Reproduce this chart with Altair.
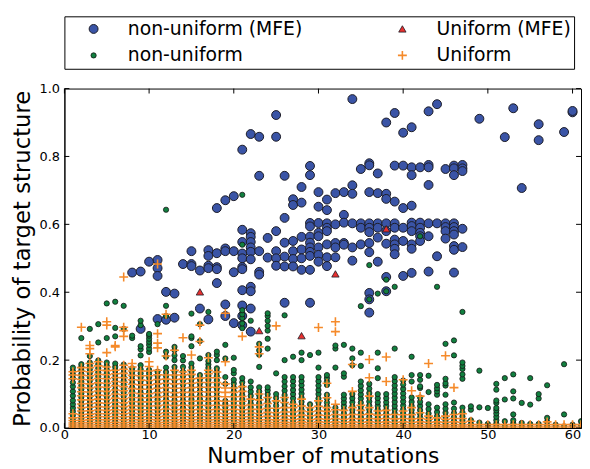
import altair as alt
import pandas as pd

# ---------------- data ----------------
# legend order (matplotlib column-major): col 1 = non-uniform pair, col 2 = Uniform pair
SERIES = ["non-uniform (MFE)", "non-uniform", "Uniform (MFE)", "Uniform"]

# non-uniform (MFE): (number of mutations, [probabilities])
NU_MFE = [
    (8, [0.458]), (9, [0.461, 0.292]), (10, [0.49]),
    (11, [0.495, 0.471, 0.448, 0.321]), (12, [0.401, 0.319]), (13, [0.396, 0.325]),
    (14, [0.483]), (15, [0.521, 0.483, 0.477]), (16, [0.464, 0.352]),
    (17, [0.524, 0.507, 0.478, 0.471, 0.32]), (18, [0.648, 0.515, 0.474, 0.468, 0.427]),
    (19, [0.671, 0.529, 0.521, 0.364, 0.33]), (20, [0.683, 0.521, 0.459, 0.309]),
    (21, [0.82, 0.584, 0.548, 0.514, 0.50, 0.474, 0.468, 0.406, 0.361, 0.33, 0.303]),
    (22, [0.866, 0.574, 0.563, 0.548, 0.532, 0.519, 0.497, 0.416, 0.403, 0.352, 0.284]),
    (23, [0.858, 0.743, 0.521, 0.46, 0.452]), (24, [0.56, 0.502]),
    (25, [0.922, 0.858, 0.58, 0.521, 0.50, 0.478]),
    (26, [0.743, 0.619, 0.546, 0.505, 0.476, 0.369]),
    (27, [0.674, 0.657, 0.551, 0.521, 0.498, 0.476]),
    (28, [0.71, 0.664, 0.563, 0.526, 0.50, 0.466]),
    (29, [0.772, 0.745, 0.604, 0.594, 0.564, 0.546, 0.532, 0.519, 0.507, 0.466, 0.369]),
    (30, [0.695, 0.652, 0.604, 0.575, 0.565, 0.532, 0.51, 0.49]),
    (31, [0.673, 0.642, 0.603, 0.59, 0.58, 0.541, 0.503, 0.477]),
    (32, [0.692, 0.60, 0.545, 0.532, 0.503]), (33, [0.695, 0.628, 0.605, 0.545, 0.54]),
    (34, [0.969, 0.715, 0.69, 0.603, 0.532, 0.493]), (35, [0.763, 0.603, 0.59, 0.541]),
    (36, [0.78, 0.774, 0.695, 0.603, 0.59, 0.577, 0.545, 0.518, 0.398, 0.379, 0.34]),
    (37, [0.75, 0.692, 0.603, 0.59, 0.561, 0.49]),
    (38, [0.90, 0.69, 0.675, 0.603, 0.58, 0.543, 0.445, 0.403]),
    (39, [0.928, 0.773, 0.667, 0.603, 0.59, 0.555, 0.541, 0.528, 0.512]),
    (40, [0.87, 0.773, 0.648, 0.59, 0.551, 0.448]),
    (41, [0.886, 0.768, 0.745, 0.655, 0.605, 0.595, 0.58, 0.541, 0.528, 0.457]),
    (42, [0.768, 0.605, 0.59, 0.575, 0.565, 0.551]),
    (43, [0.933, 0.775, 0.768, 0.716, 0.603, 0.565, 0.461]), (44, [0.954, 0.603, 0.506]),
    (45, [0.763, 0.603, 0.592, 0.58, 0.558]),
    (46, [0.773, 0.765, 0.745, 0.603, 0.592, 0.58, 0.57, 0.536, 0.525, 0.458]),
    (47, [0.775, 0.765, 0.757, 0.587, 0.533]), (49, [0.911]), (52, [0.857]), (53, [0.942]),
    (54, [0.707]), (56, [0.895, 0.848]), (59, [0.872]), (60, [0.93, 0.934]),
]

# Uniform (MFE)
U_MFE_X = [16, 23, 28, 32, 38]
U_MFE_Y = [0.401, 0.287, 0.272, 0.454, 0.587]

# non-uniform
NU = [
    (1, [0.004, 0.011, 0.019, 0.028, 0.038, 0.049, 0.059, 0.07, 0.081, 0.095, 0.108, 0.122, 0.134, 0.147, 0.158, 0.168, 0.178]),
    (2, [0.005, 0.012, 0.02, 0.029, 0.039, 0.048, 0.058, 0.069, 0.08, 0.091, 0.102, 0.114, 0.125, 0.136, 0.148, 0.159, 0.17, 0.18, 0.188, 0.265]),
    (3, [0.004, 0.013, 0.021, 0.03, 0.04, 0.05, 0.061, 0.071, 0.082, 0.093, 0.104, 0.116, 0.127, 0.139, 0.15, 0.162, 0.173, 0.184, 0.193, 0.212, 0.292]),
    (4, [0.006, 0.014, 0.022, 0.031, 0.041, 0.051, 0.062, 0.073, 0.084, 0.095, 0.106, 0.117, 0.129, 0.14, 0.152, 0.164, 0.176, 0.188, 0.199, 0.252, 0.306]),
    (5, [0.005, 0.012, 0.021, 0.03, 0.04, 0.05, 0.06, 0.071, 0.082, 0.093, 0.104, 0.116, 0.127, 0.138, 0.15, 0.161, 0.172, 0.183, 0.193, 0.265, 0.367]),
    (6, [0.004, 0.012, 0.02, 0.029, 0.039, 0.049, 0.059, 0.07, 0.081, 0.092, 0.103, 0.114, 0.126, 0.137, 0.148, 0.159, 0.17, 0.18, 0.19, 0.27, 0.295, 0.372]),
    (7, [0.005, 0.013, 0.022, 0.031, 0.041, 0.051, 0.061, 0.072, 0.083, 0.094, 0.105, 0.116, 0.128, 0.139, 0.15, 0.162, 0.174, 0.187, 0.292, 0.36]),
    (8, [0.006, 0.014, 0.023, 0.032, 0.042, 0.052, 0.063, 0.074, 0.085, 0.096, 0.108, 0.119, 0.131, 0.142, 0.154, 0.165, 0.176, 0.265, 0.272]),
    (9, [0.005, 0.013, 0.021, 0.03, 0.04, 0.05, 0.06, 0.071, 0.082, 0.093, 0.104, 0.115, 0.127, 0.138, 0.15, 0.161, 0.173, 0.185, 0.214, 0.232, 0.241, 0.303, 0.316]),
    (10, [0.004, 0.012, 0.02, 0.029, 0.039, 0.049, 0.06, 0.071, 0.082, 0.093, 0.105, 0.116, 0.127, 0.138, 0.15, 0.161, 0.171, 0.224, 0.234, 0.245, 0.254, 0.263, 0.272, 0.277]),
    (11, [0.005, 0.013, 0.022, 0.031, 0.041, 0.051, 0.062, 0.073, 0.084, 0.095, 0.106, 0.118, 0.13, 0.142, 0.154, 0.166, 0.306]),
    (12, [0.006, 0.014, 0.022, 0.031, 0.04, 0.05, 0.061, 0.072, 0.083, 0.094, 0.106, 0.117, 0.129, 0.141, 0.153, 0.165, 0.178, 0.21, 0.225, 0.33, 0.36, 0.643]),
    (13, [0.005, 0.012, 0.021, 0.03, 0.04, 0.05, 0.06, 0.071, 0.082, 0.094, 0.105, 0.117, 0.129, 0.141, 0.154, 0.167, 0.18, 0.2, 0.214, 0.229, 0.239]),
    (14, [0.004, 0.012, 0.02, 0.029, 0.039, 0.049, 0.059, 0.07, 0.081, 0.092, 0.104, 0.116, 0.128, 0.14, 0.153, 0.166, 0.18, 0.199, 0.212]),
    (15, [0.005, 0.013, 0.022, 0.031, 0.041, 0.051, 0.062, 0.073, 0.084, 0.095, 0.107, 0.119, 0.131, 0.143, 0.155, 0.167, 0.179, 0.19, 0.241, 0.265, 0.27, 0.337]),
    (16, [0.006, 0.014, 0.023, 0.032, 0.042, 0.052, 0.063, 0.074, 0.085, 0.096, 0.108, 0.12, 0.132, 0.144, 0.156, 0.205, 0.256, 0.306]),
    (17, [0.005, 0.012, 0.021, 0.03, 0.04, 0.05, 0.061, 0.072, 0.083, 0.094, 0.106, 0.118, 0.13, 0.142, 0.154, 0.166, 0.177, 0.187, 0.197, 0.215, 0.342]),
    (18, [0.004, 0.012, 0.021, 0.03, 0.04, 0.05, 0.06, 0.071, 0.082, 0.093, 0.105, 0.117, 0.129, 0.141, 0.153, 0.165, 0.176, 0.2, 0.215, 0.225]),
    (19, [0.005, 0.013, 0.022, 0.031, 0.041, 0.051, 0.061, 0.071, 0.08, 0.13, 0.15, 0.205, 0.245]),
    (20, [0.006, 0.014, 0.023, 0.032, 0.042, 0.052, 0.063, 0.074, 0.085, 0.096, 0.108, 0.119, 0.131, 0.142, 0.161, 0.171, 0.207]),
    (21, [0.005, 0.013, 0.022, 0.031, 0.041, 0.051, 0.062, 0.073, 0.085, 0.097, 0.109, 0.122, 0.135, 0.147, 0.294, 0.308, 0.324, 0.335, 0.347, 0.54, 0.687]),
    (22, [0.004, 0.012, 0.021, 0.03, 0.04, 0.05, 0.061, 0.072, 0.083, 0.095, 0.107, 0.12, 0.137, 0.316]),
    (23, [0.005, 0.013, 0.022, 0.031, 0.041, 0.051, 0.062, 0.073, 0.085, 0.097, 0.108, 0.12, 0.18, 0.216, 0.229, 0.248]),
    (24, [0.006, 0.014, 0.023, 0.032, 0.042, 0.053, 0.064, 0.076, 0.088, 0.1, 0.111, 0.12, 0.234, 0.263, 0.287, 0.301, 0.316, 0.33, 0.338]),
    (25, [0.005, 0.013, 0.022, 0.032, 0.043, 0.054, 0.066, 0.078, 0.089, 0.1, 0.161]),
    (26, [0.004, 0.012, 0.021, 0.03, 0.04, 0.051, 0.062, 0.073, 0.085, 0.097, 0.11, 0.123, 0.137, 0.15, 0.2, 0.332]),
    (27, [0.005, 0.013, 0.022, 0.032, 0.042, 0.053, 0.064, 0.076, 0.088, 0.1, 0.112, 0.125, 0.138, 0.15, 0.21]),
    (28, [0.006, 0.014, 0.023, 0.033, 0.043, 0.054, 0.065, 0.077, 0.089, 0.101, 0.113, 0.126, 0.138, 0.15, 0.2, 0.222]),
    (29, [0.005, 0.013, 0.022, 0.032, 0.043, 0.055, 0.07, 0.215]),
    (30, [0.004, 0.012, 0.021, 0.031, 0.041, 0.052, 0.063, 0.075, 0.087, 0.1, 0.112, 0.125, 0.138, 0.15, 0.178, 0.222]),
    (31, [0.005, 0.013, 0.022, 0.032, 0.042, 0.053, 0.064, 0.075, 0.087, 0.098, 0.127, 0.137, 0.147, 0.156]),
    (32, [0.006, 0.014, 0.024, 0.035, 0.047, 0.06, 0.178, 0.234, 0.243]),
    (33, [0.005, 0.013, 0.022, 0.032, 0.043, 0.054, 0.065, 0.076, 0.087, 0.098, 0.151, 0.161, 0.245]),
    (34, [0.004, 0.012, 0.021, 0.031, 0.042, 0.053, 0.064, 0.076, 0.088, 0.1, 0.185, 0.205, 0.234]),
    (35, [0.005, 0.013, 0.022, 0.032, 0.042, 0.053, 0.064, 0.075, 0.087, 0.099, 0.111, 0.124, 0.137, 0.183, 0.222, 0.359]),
    (36, [0.006, 0.014, 0.023, 0.033, 0.044, 0.055, 0.066, 0.078, 0.09, 0.103, 0.116, 0.13, 0.379, 0.48]),
    (37, [0.005, 0.013, 0.022, 0.032, 0.043, 0.054, 0.065, 0.076, 0.088, 0.1, 0.147, 0.176, 0.222, 0.396]),
    (38, [0.004, 0.012, 0.021, 0.031, 0.042, 0.053, 0.065, 0.076, 0.088, 0.1, 0.403, 0.437]),
    (39, [0.005, 0.013, 0.022, 0.032, 0.043, 0.054, 0.065, 0.077, 0.089, 0.101, 0.113, 0.125, 0.138, 0.15, 0.234, 0.416]),
    (40, [0.006, 0.014, 0.023, 0.033, 0.044, 0.055, 0.066, 0.078, 0.09, 0.102, 0.115, 0.128, 0.14]),
    (41, [0.005, 0.013, 0.022, 0.032, 0.042, 0.053, 0.065, 0.077, 0.09, 0.137, 0.156, 0.21]),
    (42, [0.004, 0.012, 0.021, 0.031, 0.042, 0.053, 0.065, 0.077, 0.09, 0.118, 0.123, 0.142, 0.156, 0.565]),
    (43, [0.005, 0.013, 0.022, 0.032, 0.043, 0.056, 0.07, 0.106, 0.154]),
    (44, [0.006, 0.014, 0.024, 0.035, 0.047, 0.06, 0.098, 0.108, 0.117, 0.127, 0.416]),
    (45, [0.005, 0.013, 0.022, 0.033, 0.045, 0.057, 0.07, 0.098, 0.125, 0.132, 0.145, 0.248]),
    (46, [0.004, 0.012, 0.021, 0.032, 0.044, 0.057, 0.075, 0.214, 0.258]),
    (47, [0.005, 0.013, 0.023, 0.034, 0.046, 0.06, 0.145, 0.158, 0.174, 0.183, 0.193, 0.342]),
    (48, [0.005, 0.012, 0.023, 0.054, 0.064]), (49, [0.005, 0.016, 0.061, 0.169]),
    (50, [0.005, 0.012, 0.059]),
    (51, [0.005, 0.013, 0.023, 0.033, 0.043, 0.052, 0.059, 0.074, 0.081, 0.113, 0.13]),
    (52, [0.005, 0.02, 0.084, 0.147]), (53, [0.005, 0.014, 0.023, 0.04, 0.087, 0.108, 0.158]),
    (54, [0.005, 0.015, 0.074]), (55, [0.005, 0.012, 0.069, 0.147]),
    (56, [0.005, 0.012, 0.087, 0.1]), (57, [0.005, 0.018, 0.03, 0.126]),
    (58, [0.005, 0.01]), (59, [0.005, 0.04, 0.188]), (60, [0.005, 0.01]), (61, [0.008, 0.02]),
]

# Uniform
U = [
    (1, [0.003, 0.009, 0.015, 0.022, 0.03, 0.042, 0.145, 0.156, 0.166]),
    (2, [0.003, 0.009, 0.016, 0.023, 0.031, 0.04, 0.05, 0.06, 0.071, 0.083, 0.095, 0.107, 0.119, 0.131, 0.143, 0.155, 0.167, 0.178, 0.297]),
    (3, [0.003, 0.009, 0.016, 0.024, 0.032, 0.041, 0.051, 0.061, 0.072, 0.083, 0.094, 0.106, 0.118, 0.13, 0.142, 0.154, 0.166, 0.178, 0.19, 0.219, 0.234, 0.243]),
    (4, [0.003, 0.01, 0.017, 0.025, 0.034, 0.043, 0.053, 0.063, 0.074, 0.085, 0.097, 0.109, 0.121, 0.133, 0.146, 0.158, 0.17, 0.183, 0.195]),
    (5, [0.003, 0.009, 0.016, 0.024, 0.033, 0.042, 0.052, 0.062, 0.073, 0.084, 0.096, 0.108, 0.12, 0.132, 0.145, 0.157, 0.169, 0.18, 0.222, 0.303, 0.313]),
    (6, [0.003, 0.01, 0.017, 0.025, 0.034, 0.044, 0.054, 0.065, 0.076, 0.088, 0.1, 0.112, 0.125, 0.137, 0.149, 0.16, 0.17, 0.239, 0.243]),
    (7, [0.003, 0.009, 0.016, 0.024, 0.033, 0.042, 0.052, 0.063, 0.074, 0.086, 0.098, 0.11, 0.122, 0.135, 0.148, 0.161, 0.173, 0.185, 0.27, 0.287, 0.297, 0.445]),
    (8, [0.003, 0.01, 0.017, 0.025, 0.034, 0.044, 0.055, 0.066, 0.078, 0.09, 0.103, 0.116, 0.129, 0.142, 0.155, 0.168, 0.18, 0.19]),
    (9, [0.003, 0.009, 0.016, 0.024, 0.033, 0.043, 0.054, 0.065, 0.077, 0.089, 0.101, 0.114, 0.127, 0.141, 0.154, 0.168]),
    (10, [0.003, 0.01, 0.017, 0.025, 0.034, 0.044, 0.054, 0.065, 0.077, 0.089, 0.101, 0.114, 0.127, 0.14, 0.154, 0.168, 0.181, 0.195]),
    (11, [0.003, 0.009, 0.016, 0.024, 0.033, 0.043, 0.054, 0.066, 0.078, 0.091, 0.104, 0.117, 0.13, 0.143, 0.157, 0.17, 0.236, 0.25, 0.278, 0.483]),
    (12, [0.003, 0.01, 0.017, 0.025, 0.035, 0.045, 0.056, 0.068, 0.08, 0.093, 0.106, 0.119, 0.132, 0.144, 0.156, 0.212, 0.335]),
    (13, [0.003, 0.009, 0.016, 0.024, 0.033, 0.043, 0.054, 0.066, 0.078, 0.091, 0.104, 0.117, 0.13, 0.143, 0.156, 0.17, 0.229]),
    (14, [0.003, 0.01, 0.017, 0.025, 0.034, 0.044, 0.055, 0.067, 0.079, 0.092, 0.105, 0.118, 0.131, 0.144, 0.156, 0.165, 0.266]),
    (15, [0.003, 0.009, 0.016, 0.024, 0.033, 0.043, 0.054, 0.066, 0.079, 0.092, 0.105, 0.119, 0.132, 0.145, 0.158, 0.17, 0.215]),
    (16, [0.003, 0.01, 0.017, 0.025, 0.034, 0.044, 0.055, 0.067, 0.08, 0.093, 0.107, 0.12, 0.134, 0.147, 0.255, 0.303]),
    (17, [0.003, 0.009, 0.016, 0.024, 0.033, 0.043, 0.054, 0.066, 0.079, 0.092, 0.106, 0.12, 0.134, 0.148, 0.16, 0.17, 0.207]),
    (18, [0.003, 0.01, 0.017, 0.025, 0.034, 0.044, 0.055, 0.067, 0.08, 0.093, 0.106, 0.12, 0.134, 0.148, 0.165]),
    (19, [0.003, 0.009, 0.016, 0.024, 0.033, 0.043, 0.054, 0.066, 0.079, 0.092, 0.105, 0.118, 0.13, 0.195, 0.338]),
    (20, [0.003, 0.01, 0.017, 0.025, 0.034, 0.044, 0.055, 0.067, 0.079, 0.092, 0.105, 0.118]),
    (21, [0.003, 0.009, 0.016, 0.024, 0.033, 0.043, 0.054, 0.066, 0.079, 0.093, 0.108, 0.122, 0.27]),
    (22, [0.003, 0.01, 0.017, 0.025, 0.034, 0.044, 0.055, 0.068, 0.085]),
    (23, [0.003, 0.009, 0.016, 0.024, 0.033, 0.043, 0.055, 0.068, 0.083, 0.1, 0.219, 0.239]),
    (24, [0.003, 0.01, 0.017, 0.025, 0.035, 0.046, 0.058, 0.072, 0.09]),
    (25, [0.003, 0.009, 0.016, 0.024, 0.034, 0.045, 0.058, 0.08, 0.301]),
    (26, [0.003, 0.01, 0.017, 0.026, 0.036, 0.047, 0.06, 0.075, 0.09]),
    (27, [0.003, 0.009, 0.016, 0.025, 0.035, 0.047, 0.06, 0.07]),
    (28, [0.003, 0.01, 0.018, 0.027, 0.038, 0.05, 0.065, 0.085]),
    (29, [0.003, 0.009, 0.016, 0.025, 0.036, 0.048, 0.06]),
    (30, [0.003, 0.01, 0.018, 0.027, 0.038, 0.05, 0.064, 0.08, 0.296]),
    (31, [0.003, 0.009, 0.017, 0.026, 0.037, 0.049, 0.06, 0.089, 0.132]),
    (32, [0.003, 0.01, 0.018, 0.028, 0.04, 0.054, 0.07, 0.284, 0.313]),
    (33, [0.003, 0.009, 0.017, 0.026, 0.038, 0.052]),
    (34, [0.003, 0.01, 0.018, 0.028, 0.04, 0.06, 0.108, 0.187]),
    (35, [0.003, 0.009, 0.017, 0.027, 0.039, 0.052, 0.067]),
    (36, [0.003, 0.01, 0.018, 0.028, 0.041, 0.06, 0.094, 0.148, 0.202]),
    (37, [0.003, 0.009, 0.017, 0.027, 0.038, 0.05]),
    (38, [0.003, 0.01, 0.018, 0.028, 0.039, 0.052, 0.137, 0.209]),
    (39, [0.003, 0.009, 0.017, 0.027, 0.04]),
    (40, [0.003, 0.01, 0.018, 0.028, 0.039, 0.05, 0.142]),
    (41, [0.003, 0.009, 0.017, 0.027, 0.039, 0.06, 0.11]),
    (42, [0.003, 0.01, 0.018, 0.028, 0.045, 0.094]),
    (43, [0.003, 0.009, 0.017, 0.026, 0.035, 0.19]),
    (44, [0.003, 0.01, 0.018, 0.03]),
    (45, [0.003, 0.009, 0.017, 0.026, 0.035, 0.213]),
    (46, [0.003, 0.01, 0.018, 0.028, 0.04, 0.119]),
    (47, [0.003, 0.009, 0.017, 0.028, 0.042]),
    (48, [0.003, 0.01, 0.02]), (49, [0.003, 0.01]), (50, [0.003, 0.01]), (51, [0.003, 0.01]),
    (52, [0.003, 0.01]), (53, [0.003, 0.01]), (54, [0.003, 0.01]), (55, [0.003, 0.01]),
    (56, [0.003, 0.01]), (57, [0.003, 0.01, 0.018]), (58, [0.003, 0.01]), (59, [0.003, 0.01]),
    (60, [0.003, 0.01]), (61, [0.003, 0.01]),
]

X_TICKS = [0, 10, 20, 30, 40, 50, 60]
Y_TICKS = [0.0, 0.2, 0.4, 0.6, 0.8, 1.0]

# ---------------- build table (drawing order: blue, green, red, orange) ----------------
rows = []
def add_cols(cols, name):
    for x, ys in cols:
        for y in ys:
            rows.append({"x": x, "y": y, "series": name})

add_cols(NU_MFE, "non-uniform (MFE)")
add_cols(NU, "non-uniform")
for x, y in zip(U_MFE_X, U_MFE_Y):
    rows.append({"x": x, "y": y, "series": "Uniform (MFE)"})
add_cols(U, "Uniform")
df = pd.DataFrame(rows)

W, H = 522, 343
FONT = "DejaVu Sans"
PLUS = "M-1,0L1,0M0,-1L0,1"

xs = alt.Scale(domain=[0, 61], nice=False, zero=False)
ys = alt.Scale(domain=[0, 1], nice=False, zero=False)

x_axis = alt.Axis(values=X_TICKS, format="d", ticks=False, domain=True, domainColor="black",
                  grid=False, labelFontSize=13, labelFont=FONT, labelColor="black",
                  labelPadding=1, labelFlush=False, title="Number of mutations",
                  titleFontSize=22, titleFont=FONT, titleFontWeight="normal",
                  titleColor="black", titlePadding=4, zindex=1)
y_axis = alt.Axis(values=Y_TICKS, format=".1f", ticks=False, domain=True, domainColor="black",
                  grid=False, labelFontSize=13, labelFont=FONT, labelColor="black",
                  labelPadding=5, labelFlush=False, title="Probability of target structure",
                  titleFontSize=23, titleFont=FONT, titleFontWeight="normal",
                  titleColor="black", titlePadding=5, zindex=1)

legend = alt.Legend(orient="none", legendX=0, legendY=-73, columns=2, direction="vertical",
                    labelFont=FONT, labelFontSize=19, labelColor="black", labelLimit=400,
                    strokeColor="black", fillColor="white", padding=3, rowPadding=7,
                    columnPadding=74, labelOffset=25, symbolOffset=17)

# colour/shape/size per series, in SERIES order
FILLS = ["#3a54a6", "#11803f", "#e8302f", "#f58a2a"]
STROKES = ["#1c1c26", "#161616", "#1c1c26", "#f58a2a"]
SHAPES = ["circle", "circle", "triangle-up", PLUS]
SIZES = [81, 28, 55, 81]
SWIDTHS = [1.0, 0.8, 0.8, 1.6]

points = alt.Chart(df).mark_point(opacity=1, clip=True, filled=False).encode(
    x=alt.X("x:Q", scale=xs, axis=x_axis),
    y=alt.Y("y:Q", scale=ys, axis=y_axis),
    fill=alt.Fill("series:N", title=None, legend=legend,
                  scale=alt.Scale(domain=SERIES, range=FILLS)),
    stroke=alt.Stroke("series:N", title=None, legend=legend,
                      scale=alt.Scale(domain=SERIES, range=STROKES)),
    shape=alt.Shape("series:N", title=None, legend=legend,
                    scale=alt.Scale(domain=SERIES, range=SHAPES)),
    size=alt.Size("series:N", title=None, legend=legend,
                  scale=alt.Scale(type="ordinal", domain=SERIES, range=SIZES)),
    strokeWidth=alt.StrokeWidth("series:N", title=None, legend=legend,
                                scale=alt.Scale(type="ordinal", domain=SERIES, range=SWIDTHS)),
)

xt = pd.DataFrame({"x": X_TICKS})
yt = pd.DataFrame({"y": Y_TICKS})
tick_x = alt.X("x:Q", scale=xs, axis=x_axis)
tick_y = alt.Y("y:Q", scale=ys, axis=y_axis)
bottom_ticks = alt.Chart(xt).mark_rule(color="black", strokeWidth=1).encode(
    x=tick_x, y=alt.value(H), y2=alt.value(H - 5))
top_ticks = alt.Chart(xt).mark_rule(color="black", strokeWidth=1).encode(
    x=tick_x, y=alt.value(0), y2=alt.value(5))
left_ticks = alt.Chart(yt).mark_rule(color="black", strokeWidth=1).encode(
    y=tick_y, x=alt.value(0), x2=alt.value(5))
right_ticks = alt.Chart(yt).mark_rule(color="black", strokeWidth=1).encode(
    y=tick_y, x=alt.value(W - 5), x2=alt.value(W))

chart = alt.layer(points, bottom_ticks, top_ticks, left_ticks, right_ticks).properties(
    width=W, height=H,
    padding={"left": 3, "top": 5, "right": 0, "bottom": 0},
    background="white",
).configure_view(stroke="black", strokeWidth=1)

chart.save("out.html", embed_options={"renderer": "svg", "actions": False})
